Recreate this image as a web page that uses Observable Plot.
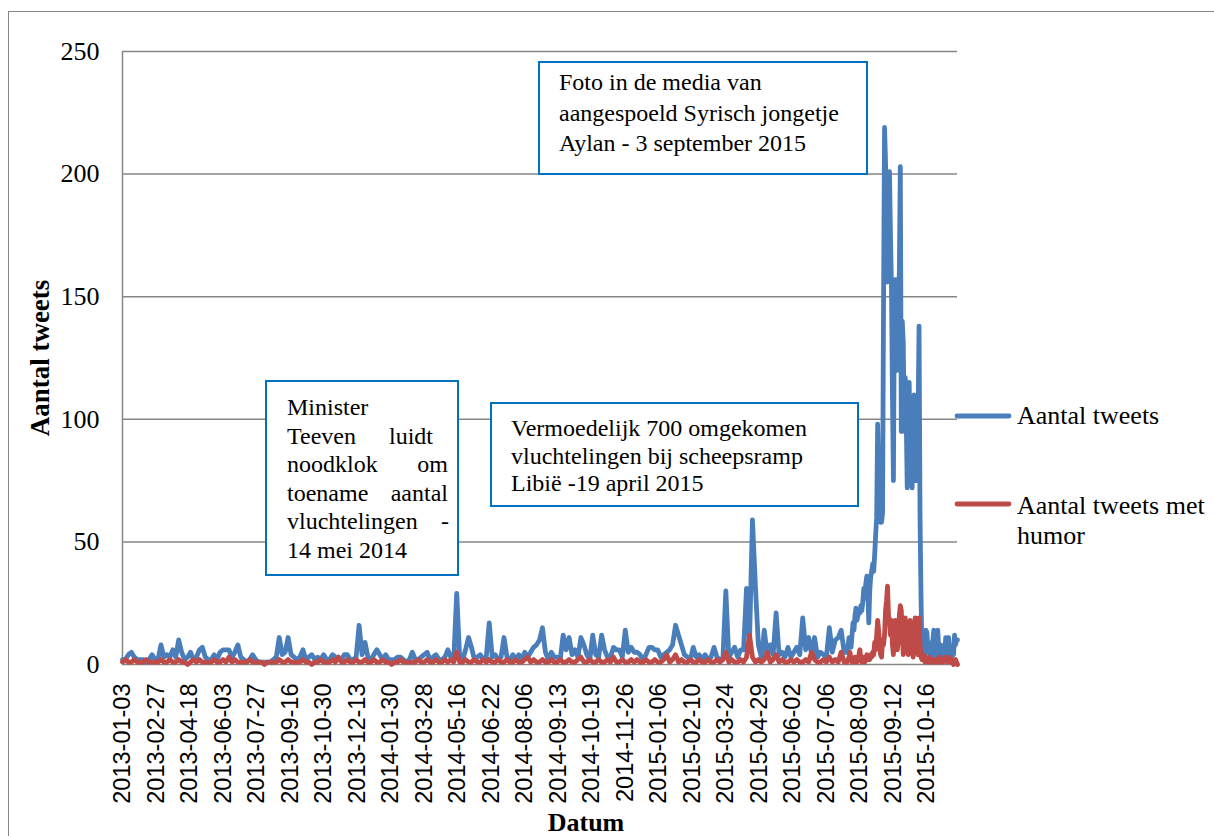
<!DOCTYPE html>
<html>
<head>
<meta charset="utf-8">
<script src="https://cdn.jsdelivr.net/npm/d3@7"></script>
<script src="https://cdn.jsdelivr.net/npm/@observablehq/plot@0.6"></script>
<style>
  body { margin: 0; background: #fff; }
  #wrap { position: relative; width: 1214px; height: 836px; overflow: hidden; background: #fff; }
  #frame { position: absolute; left: 8px; top: 11px; width: 1240px; height: 870px; border: 1.5px solid #868686; box-sizing: border-box; }
  #chart { position: absolute; left: 0; top: 0; }
  .box { position: absolute; border: 2px solid #0070C0; background: #fff; box-sizing: border-box;
         font-family: "Liberation Serif", "Times New Roman", serif; font-size: 24px; color: #000; white-space: nowrap; }
  .lbl { position: absolute; font-family: "Liberation Serif", "Times New Roman", serif; color: #000; white-space: nowrap; }
  .just { text-align: justify; text-align-last: justify; }
</style>
</head>
<body>
<div id="wrap">
  <div id="frame"></div>
  <div id="chart"></div>
</div>
<script>
// ---- data ----
const tickLabels = ["2013-01-03","2013-02-27","2013-04-18","2013-06-03","2013-07-27","2013-09-16","2013-10-30",
  "2013-12-13","2014-01-30","2014-03-28","2014-05-16","2014-06-22","2014-08-06","2014-09-13","2014-10-19",
  "2014-11-26","2015-01-06","2015-02-10","2015-03-24","2015-04-29","2015-06-02","2015-07-06","2015-08-09",
  "2015-09-12","2015-10-16"];
const labelEvery = 34;      // categories between two date labels
const lastCategory = 847;   // index of the last day in the series
const yTicks = [0, 50, 100, 150, 200, 250];

// early period: one value every 3 categories (0, 3, 6, ...)
const earlyStep = 3;
const tweetsEarly = [
  2,2,4,5,3,2,2,2,1,2, 4,2,2,8,3,4,3,6,3,10, 5,2,3,5,2,3,6,7,3,2, 2,4,2,5,6,6,6,3,5,8,
  3,2,1,2,4,2,1,1,1,1, 1,2,3,11,4,5,11,4,3,2, 3,6,2,3,4,2,3,2,4,2, 2,4,3,2,2,4,4,2,2,3,
  16,4,9,3,2,4,6,4,2,4, 2,2,2,3,3,2,1,2,5,2, 2,3,4,5,2,3,4,2,2,3, 6,3,2,29,3,2,6,11,7,2,
  3,4,2,3,17,3,4,2,3,11, 3,2,4,2,4,2,5,3,5,7, 8,10,15,5,2,5,3,3,2,12, 6,11,4,6,3,11,8,4,2,12,
  4,3,12,6,3,3,7,6,6,3, 14,5,7,5,5,4,2,4,7,7, 6,6,3,4,5,6,8,16,12,8, 4,3,2,7,3,4,2,4,2,3,
  7,3,2,2,30,3,5,7,3,6, 6,31,9,59,32,8,3,14,4,8, 4,21,4,5,3,7,3,5,7,4, 19,6,11,4,11,3,5,4,3,15,
  5,10,11,14,5
];
const humorEarly = [
  1,2,1,1,2,1,1,1,2,1, 1,1,1,2,1,1,2,1,1,2, 1,1,0,1,2,1,2,1,1,1, 1,2,1,1,2,1,3,1,2,1,
  1,1,1,2,1,1,1,1,0,1, 1,1,1,2,1,1,2,1,1,1, 1,2,1,1,0,1,1,2,1,1, 1,2,1,3,1,1,2,1,1,2,
  1,1,2,1,1,2,1,1,2,1, 1,0,1,1,2,1,1,1,1,1, 2,1,1,2,1,1,2,1,1,2, 1,2,1,5,1,1,2,1,1,2,
  1,1,2,1,2,1,1,2,1,1, 2,1,1,2,1,1,2,3,1,2, 1,1,2,1,1,2,1,1,2,1, 1,2,1,1,2,3,1,1,2,1,
  1,2,1,1,2,1,3,1,1,2, 1,1,2,1,2,1,1,2,1,1, 2,1,1,2,4,1,2,4,1,2, 1,1,2,1,1,2,1,1,2,1,
  1,2,1,2,5,1,2,1,1,2, 1,3,12,3,1,2,1,2,5,1, 2,4,1,2,1,1,2,1,2,1, 1,2,1,5,2,1,1,2,1,3,
  1,2,1,5,1
];
// late period: daily values from category 735 to 847
const lateStart = 735;
const tweetsLate = [
  5,8,11,11,7,12,17,14,20,23, 18,20,22,21,24,22,26,31,27,33, 36,30,17,30,36,38,41,38,45,53,
  60,98,75,60,58,58,62,150,219,205, 180,156,185,201,175,155,110,75,150,157,
  140,120,150,160,203,95,140,131,95,117, 100,72,98,115,80,80,72,100,110,80,
  75,90,100,138,60,27,5,14,8,4, 14,13,5,9,4,3,4,10,14,6, 3,13,14,6,4,8,3,4,5,3,
  11,9,4,11,6,5,3,5,4,12, 8,10,10
];
const humorLate = [
  1,2,3,5,2,1,2,1,3,2, 1,2,4,6,2,1,2,3,1,2, 4,2,3,2,4,3,5,4,9,6,
  12,18,14,8,4,3,10,8,12,22, 26,32,20,18,12,18,8,4,12,18,
  14,6,10,20,24,22,12,4,10,19, 15,7,4,12,18,10,5,3,12,19,
  14,8,4,19,8,3,2,4,2,1, 3,2,1,2,3,1,2,1,2,1, 2,1,2,1,3,2,1,2,1,2,
  3,2,1,3,2,1,2,1,0,1, 2,1,0
];
const seriesNames = ["Aantal tweets", "Aantal tweets met humor"];

// ---- table ----
const rows = [];
tweetsEarly.forEach((v, j) => rows.push({k: j * earlyStep, tweets: v, humor: humorEarly[j]}));
tweetsLate.forEach((v, i) => rows.push({k: lateStart + i, tweets: v, humor: humorLate[i]}));
const tickPos = tickLabels.map((_, i) => i * labelEvery);

const BLUE = "#4A7EBB", RED = "#BE4B48", GRID = "#868686";

const chart = Plot.plot({
  width: 1214, height: 836,
  marginLeft: 122, marginRight: 257, marginTop: 51, marginBottom: 172,
  x: {domain: [0, lastCategory], label: null},
  y: {domain: [0, 250], label: null},
  marks: [
    Plot.ruleY(yTicks, {stroke: GRID, strokeWidth: 1.5}),
    Plot.ruleX([0], {stroke: GRID, strokeWidth: 1.5}),
    Plot.lineY(rows, {x: "k", y: "tweets", stroke: BLUE, strokeWidth: 4.8, strokeLinejoin: "round", strokeLinecap: "round"}),
    Plot.lineY(rows, {x: "k", y: "humor", stroke: RED, strokeWidth: 4.8, strokeLinejoin: "round", strokeLinecap: "round"}),
    Plot.axisX(tickPos, {tickFormat: d => tickLabels[Math.round(d / labelEvery)], tickRotate: -90, tickSize: 0,
      tickPadding: 19, fontSize: 23.5, fontFamily: "Liberation Sans", label: null}),
    Plot.axisY(yTicks, {tickSize: 0, tickPadding: 23, fontSize: 26, fontFamily: "Liberation Serif", label: null})
  ]
});
document.getElementById("chart").appendChild(chart);

// ---- annotations, axis titles, legend (HTML overlays) ----
const wrap = document.getElementById("wrap");
function addDiv(cls, css, html) {
  const d = document.createElement("div");
  d.className = cls; d.style.cssText = css; d.innerHTML = html; wrap.appendChild(d); return d;
}
addDiv("box", "left:538px;top:61px;width:330px;height:114px;padding:4px 0 0 19px;line-height:30.5px;",
  "Foto in de media van<br>aangespoeld Syrisch jongetje<br>Aylan - 3 september 2015");
addDiv("box", "left:265px;top:380px;width:194px;height:196px;padding:11px 0 0 20px;line-height:28.5px;",
  "<div>Minister</div><div class='just' style='width:146px'>Teeven luidt</div>" +
  "<div class='just' style='width:161px'>noodklok &nbsp;om</div><div class='just' style='width:161px'>toename aantal</div>" +
  "<div class='just' style='width:162px'>vluchtelingen -</div><div>14 mei 2014</div>");
addDiv("box", "left:490px;top:402px;width:369px;height:105px;padding:11px 0 0 19px;line-height:27.5px;",
  "Vermoedelijk 700 omgekomen<br>vluchtelingen bij scheepsramp<br>Libië -19 april 2015");

addDiv("lbl", "left:40px;top:358px;font-size:27px;font-weight:bold;transform:translate(-50%,-50%) rotate(-90deg);",
  "Aantal tweets");
addDiv("lbl", "left:586px;top:823px;font-size:26px;font-weight:bold;transform:translate(-50%,-50%);", "Datum");

// legend
const leg = d3.select(wrap).append("svg").attr("width", 1214).attr("height", 836)
  .style("position", "absolute").style("left", 0).style("top", 0).style("pointer-events", "none");
const legendY = [416, 504];
[BLUE, RED].forEach((c, i) => {
  leg.append("line").attr("x1", 957).attr("x2", 1009).attr("y1", legendY[i]).attr("y2", legendY[i])
    .attr("stroke", c).attr("stroke-width", 4.8).attr("stroke-linecap", "round");
});
addDiv("lbl", "left:1017px;top:401px;font-size:26px;line-height:30px;", seriesNames[0]);
addDiv("lbl", "left:1017px;top:491px;font-size:26px;line-height:30px;", "Aantal tweets met<br>humor");
</script>
</body>
</html>
